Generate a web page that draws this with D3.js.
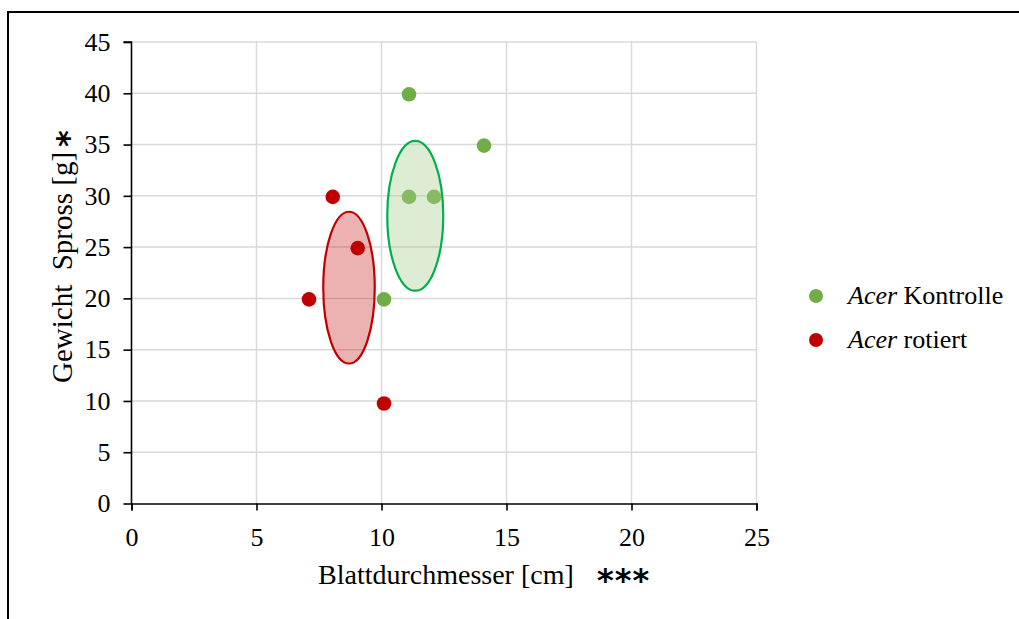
<!DOCTYPE html>
<html>
<head>
<meta charset="utf-8">
<script src="https://cdn.jsdelivr.net/npm/d3@7"></script>
<style>
  html, body { margin: 0; padding: 0; background: #fff; }
  svg { display: block; }
</style>
</head>
<body>
<svg id="chart" width="1019" height="619"></svg>
<script>
// Leaf diameter (cm) vs. shoot weight (g) for two Acer groups
const kontrolleX = [11.1, 14.1, 11.1, 12.1, 10.1];
const kontrolleY = [39.9, 34.9, 29.9, 29.9, 19.9];
const rotiertX = [8.05, 9.05, 7.1, 10.1];
const rotiertY = [29.9, 24.9, 19.9, 9.75];

// Spread ellipses: centre (x, y) and radii (x, y) in data units
const kontrolleEllipse = [11.35, 28.05, 1.12, 7.3];
const rotiertEllipse = [8.7, 21.05, 1.03, 7.4];

const xTicks = [0, 5, 10, 15, 20, 25];
const yTicks = [0, 5, 10, 15, 20, 25, 30, 35, 40, 45];
const legendLabels = ["Kontrolle", "rotiert"];
const genus = "Acer";

const serif = "Liberation Serif, Times New Roman, serif";
const svg = d3.select("#chart");

// outer frame
svg.append("rect")
  .attr("x", 8).attr("y", 12).attr("width", 1040).attr("height", 640)
  .attr("fill", "none").attr("stroke", "#000").attr("stroke-width", 2);

const x = d3.scaleLinear().domain([0, 25]).range([131.5, 756.5]);
const y = d3.scaleLinear().domain([0, 45]).range([503.5, 42]);

const plot = svg.append("g");

// gridlines
plot.append("g").selectAll("line").data(xTicks.filter(d => d > 0)).join("line")
  .attr("x1", d => x(d)).attr("x2", d => x(d))
  .attr("y1", y(0)).attr("y2", y(45))
  .attr("stroke", "#d9d9d9").attr("stroke-width", 1.5);
plot.append("g").selectAll("line").data(yTicks.filter(d => d > 0)).join("line")
  .attr("x1", x(0)).attr("x2", x(25))
  .attr("y1", d => y(d)).attr("y2", d => y(d))
  .attr("stroke", "#d9d9d9").attr("stroke-width", 1.5);

// axes
const xAxis = d3.axisBottom(x).tickValues(xTicks).tickSize(7).tickPadding(17);
const yAxis = d3.axisLeft(y).tickValues(yTicks).tickSize(8).tickPadding(13);

const gx = plot.append("g").attr("transform", `translate(0,${y(0)})`).call(xAxis);
const gy = plot.append("g").attr("transform", `translate(${x(0)},0)`).call(yAxis);
[gx, gy].forEach(g => {
  g.attr("font-family", serif).attr("font-size", 26);
  g.select(".domain").attr("stroke", "#000").attr("stroke-width", 1.6);
  g.selectAll(".tick line").attr("stroke", "#000").attr("stroke-width", 1.6);
  g.selectAll(".tick text").attr("fill", "#000");
});
gy.select(".domain").attr("d", `M-8,${y(45)}H0V${y(0)}`);

function ellipse(e, fill, stroke) {
  plot.append("ellipse")
    .attr("cx", x(e[0])).attr("cy", y(e[1]))
    .attr("rx", x(e[0] + e[2]) - x(e[0]))
    .attr("ry", y(e[1] - e[3]) - y(e[1]))
    .attr("fill", fill).attr("stroke", stroke).attr("stroke-width", 2.2);
}

// red group: ellipse then points
ellipse(rotiertEllipse, "rgba(192,0,0,0.3)", "#c00000");
plot.append("g").selectAll("circle").data(rotiertX).join("circle")
  .attr("cx", d => x(d)).attr("cy", (d, i) => y(rotiertY[i]))
  .attr("r", 7.3).attr("fill", "#c00000");

// green group: points then translucent ellipse
plot.append("g").selectAll("circle").data(kontrolleX).join("circle")
  .attr("cx", d => x(d)).attr("cy", (d, i) => y(kontrolleY[i]))
  .attr("r", 7.3).attr("fill", "#70ad47");
ellipse(kontrolleEllipse, "rgba(169,208,142,0.4)", "#00b050");

// axis titles
const xt = svg.append("text")
  .attr("x", 318).attr("y", 584).attr("font-family", serif).attr("font-size", 28);
xt.append("tspan").text("Blattdurchmesser [cm]");
xt.append("tspan").attr("x", 597).attr("y", 591)
  .attr("font-family", "DejaVu Sans, sans-serif").attr("font-weight", "bold")
  .attr("font-size", 32).attr("letter-spacing", 1).text("***");

const yt = svg.append("text")
  .attr("transform", "translate(72,383) rotate(-90)")
  .attr("font-family", serif).attr("font-size", 29)
  .style("white-space", "pre");
yt.append("tspan").text("Gewicht  Spross [g]");
yt.append("tspan").attr("x", 236).attr("y", 7)
  .attr("font-family", "DejaVu Sans, sans-serif").attr("font-weight", "bold")
  .attr("font-size", 32).text("*");

// legend
const legendColors = ["#70ad47", "#c00000"];
const lg = svg.append("g");
legendLabels.forEach((lab, i) => {
  const cy = 296 + i * 44;
  lg.append("circle").attr("cx", 816).attr("cy", cy).attr("r", 7).attr("fill", legendColors[i]);
  const t = lg.append("text").attr("x", 848).attr("y", cy + 8)
    .attr("font-family", serif).attr("font-size", 26);
  t.append("tspan").attr("font-style", "italic").text(genus);
  t.append("tspan").text(" " + lab);
});
</script>
</body>
</html>
